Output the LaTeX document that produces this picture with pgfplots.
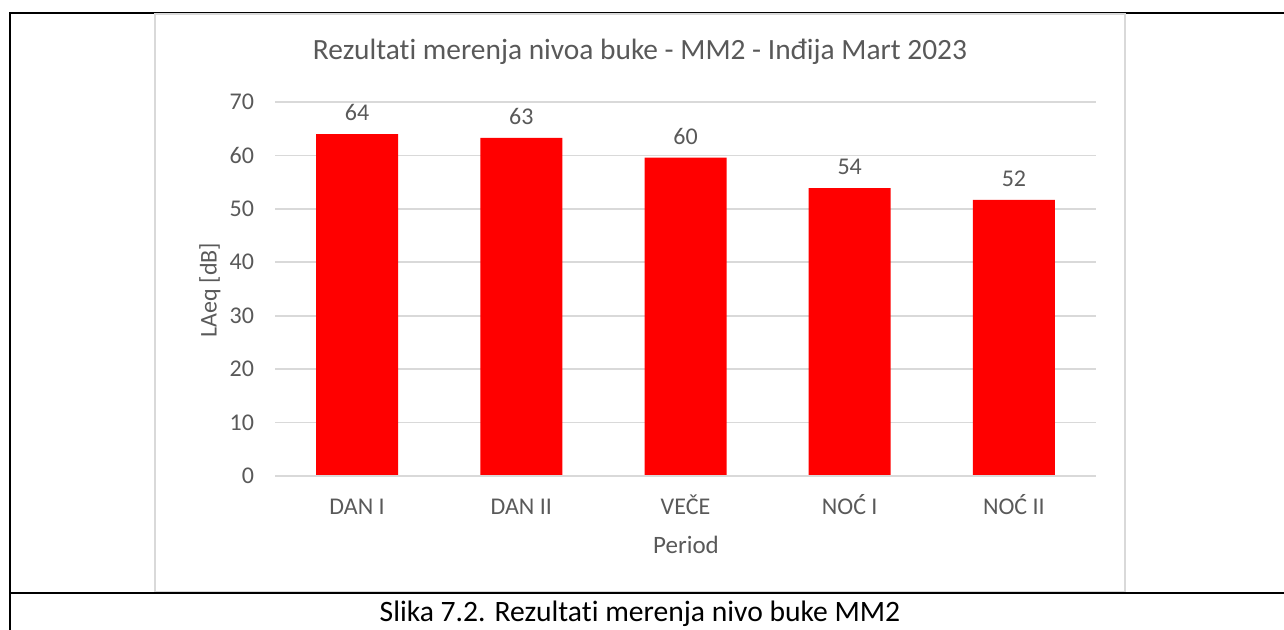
\documentclass[border=0pt]{standalone}
\usepackage{pgfplots}
\pgfplotsset{compat=1.18}
\usepackage{fontspec}
\setmainfont{Carlito}[Ligatures={NoCommon,NoContextual}, Contextuals=NoAlternate]
\definecolor{txtgray}{HTML}{595959}
\definecolor{gridgray}{HTML}{D9D9D9}

\begin{document}
\begin{tikzpicture}
\useasboundingbox (0,0) rectangle (642pt,315pt);
% outer table frame
\draw[black, line width=1.1pt] (5pt,0) -- (5pt,308.5pt) -- (642pt,308.5pt);
\draw[black, line width=1.1pt] (5pt,18.5pt) -- (642pt,18.5pt);
% chart box
\draw[gridgray, line width=0.8pt] (77.5pt,19.2pt) rectangle (562.5pt,308pt);

\begin{axis}[
  at={(137.5pt,77pt)}, anchor=south west,
  scale only axis,
  width=410.5pt, height=187pt,
  ymin=0, ymax=70,
  xmin=-0.5, xmax=4.5,
  ytick={0,10,...,70},
  xtick=data,
  xticklabels={DAN I, DAN II, VEČE, NOĆ I, NOĆ II},
  axis line style={draw=none},
  axis x line*=bottom,
  ymajorgrids,
  grid style={gridgray, line width=0.8pt},
  major tick length=0pt,
  tick label style={font=\fontsize{12}{14}\selectfont, text=txtgray},
  yticklabel style={xshift=-7pt},
  xticklabel style={anchor=base, yshift=-19.5pt},
  /pgf/number format/assume math mode=true,
  ybar, bar width=41pt,
  nodes near coords,
  nodes near coords style={font=\fontsize{12}{14}\selectfont, text=txtgray,
    /pgf/number format/fixed, /pgf/number format/precision=0,
    /pgf/number format/assume math mode=true, yshift=3pt},
  clip=false,
]
  \addplot[fill=red, draw=none] coordinates {(0,64.0) (1,63.3) (2,59.6) (3,53.9) (4,51.7)};
  \draw[gridgray, line width=0.8pt] (axis cs:-0.5,0) -- (axis cs:4.5,0);
\end{axis}

\node[text=txtgray, font=\fontsize{14.7}{17}\selectfont] at (320pt,289pt) {Rezultati merenja nivoa buke - MM2 - Inđija Mart 2023};
\node[text=txtgray, font=\fontsize{12.5}{14}\selectfont] at (343pt,42.5pt) {Period};
\node[text=txtgray, font=\fontsize{12}{14}\selectfont, rotate=90] at (105pt,170pt) {LAeq [dB]};
\node[text=black, font=\fontsize{14.8}{17}\selectfont] at (320pt,8pt) {Slika 7.2. Rezultati merenja nivo buke MM2};
\end{tikzpicture}
\end{document}
